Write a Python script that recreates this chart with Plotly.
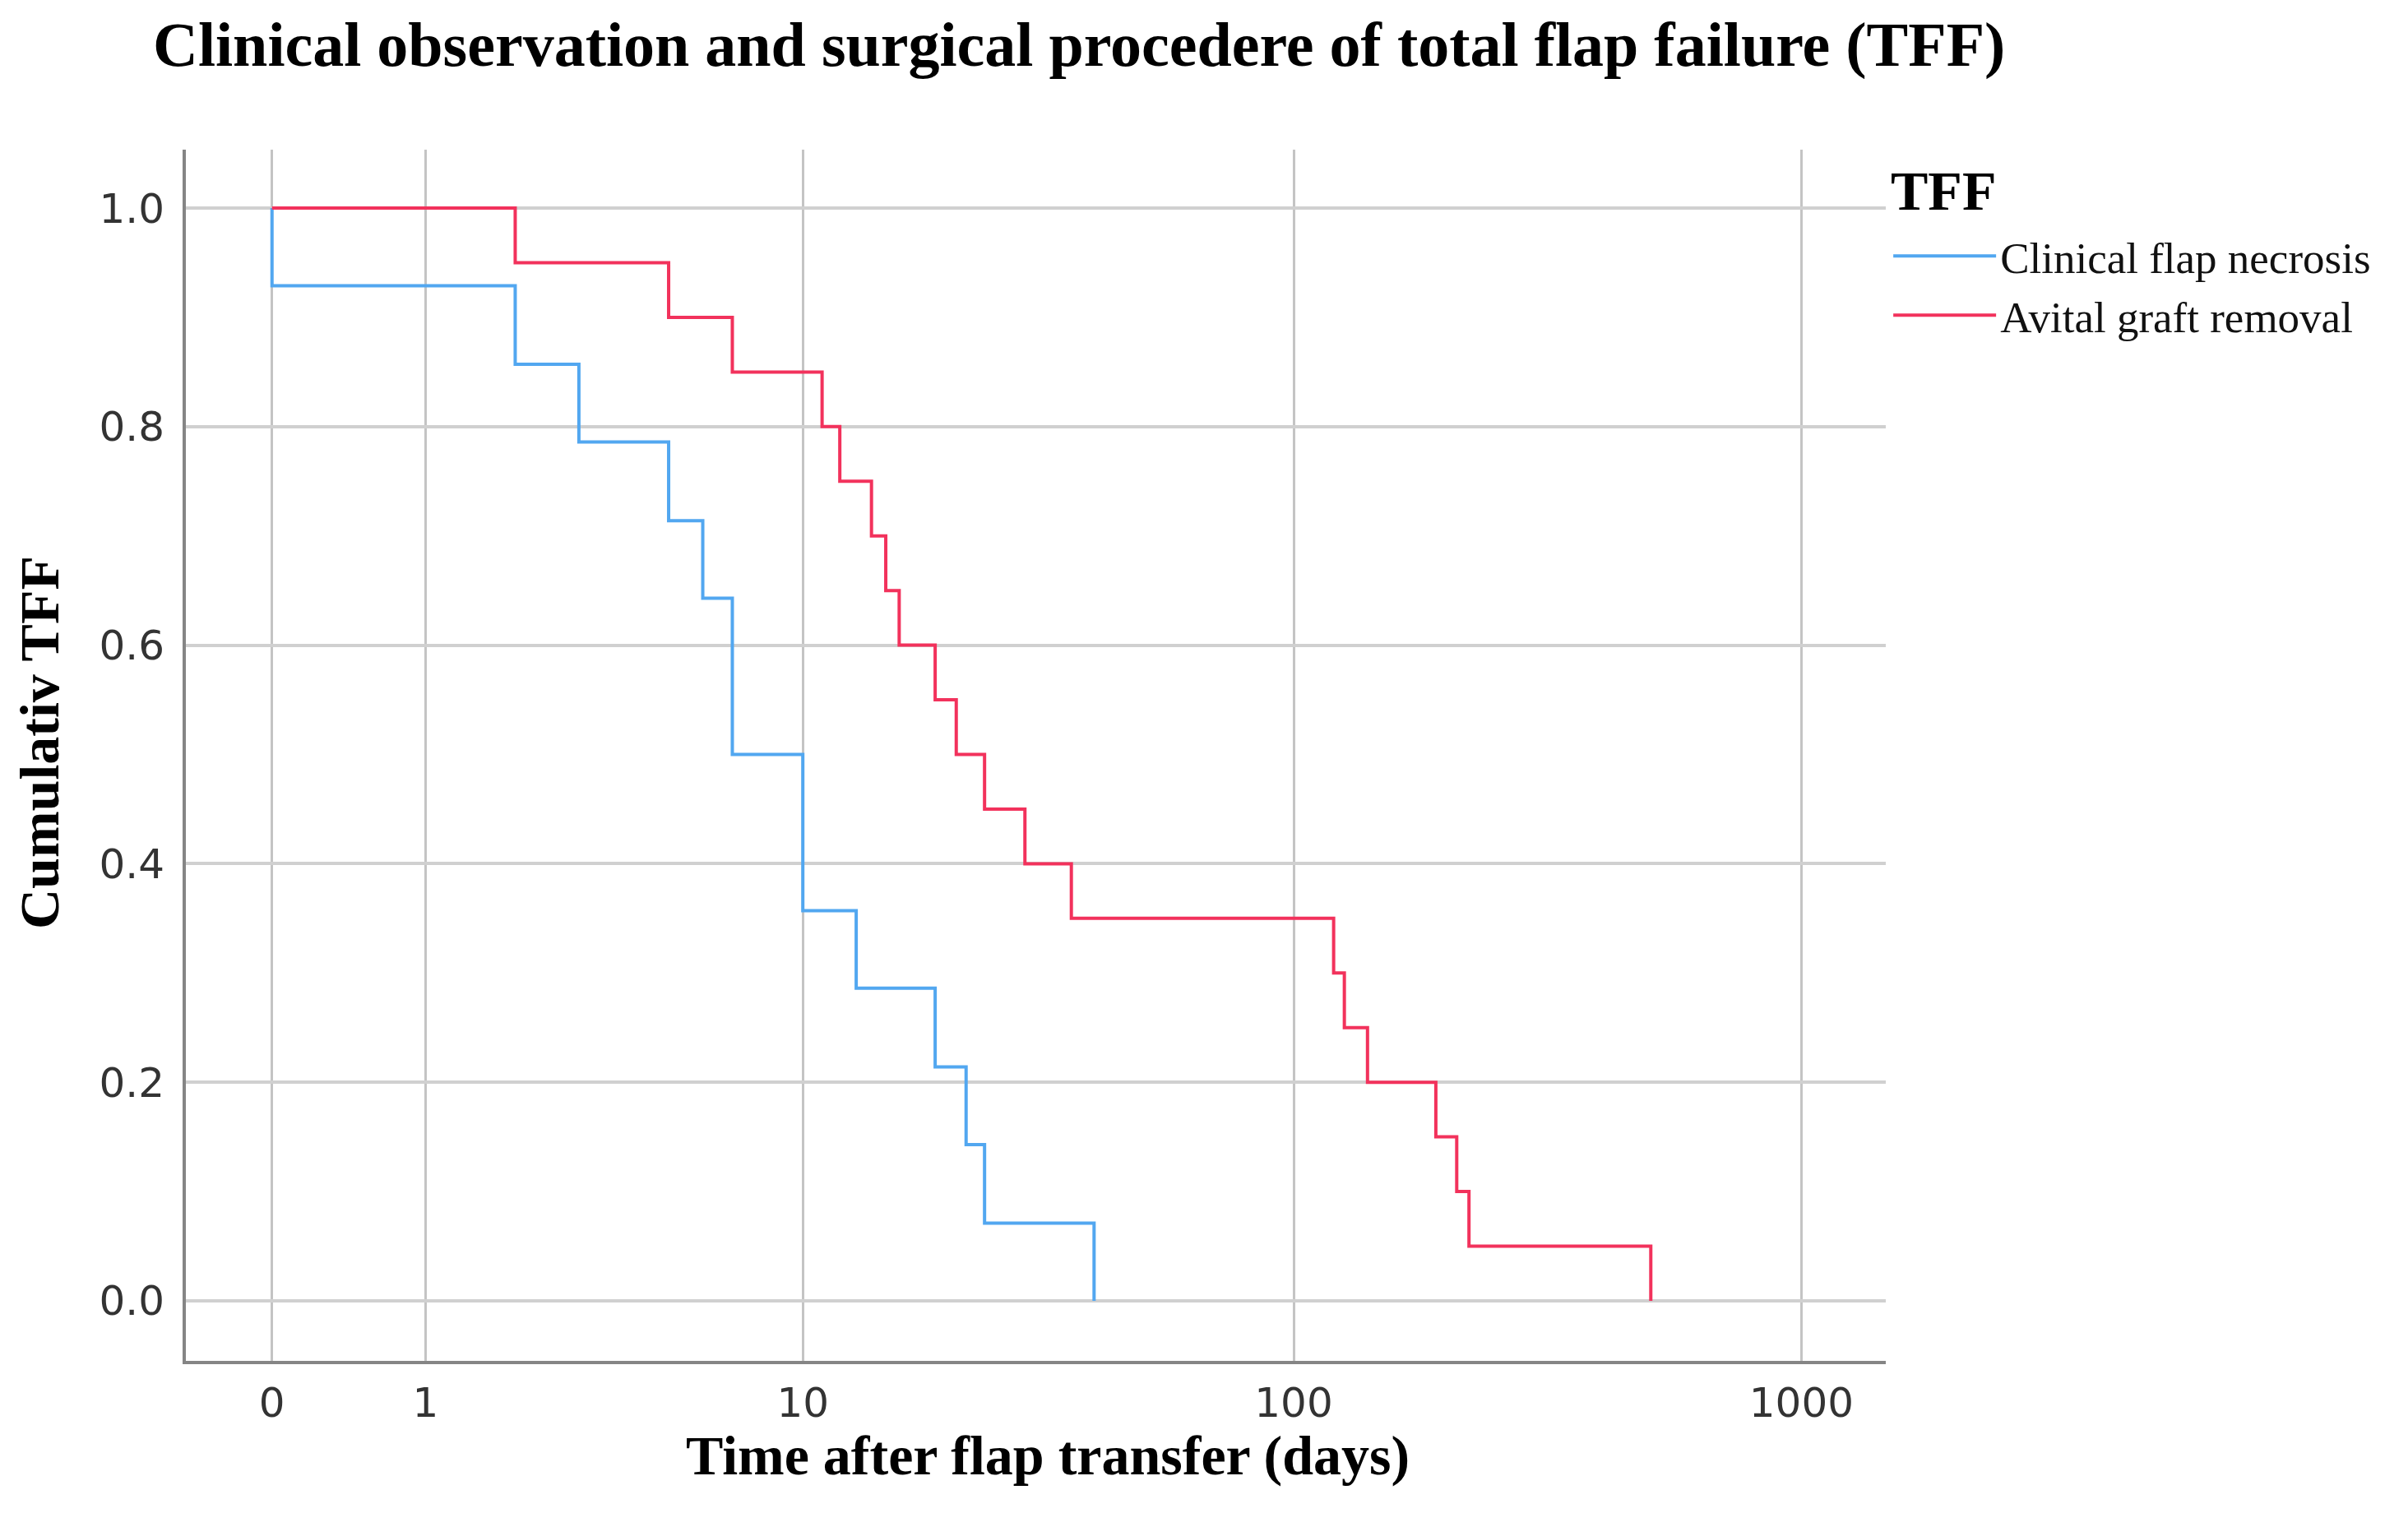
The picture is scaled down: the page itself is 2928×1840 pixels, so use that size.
import plotly.graph_objects as go

# ---------------- data ----------------
necrosis_days = [0, 0, 2, 3, 5, 6, 7, 10, 13, 19, 22, 24, 40]
necrosis_cum = [1.0, 0.929, 0.857, 0.786, 0.714, 0.643, 0.5, 0.357, 0.286, 0.214, 0.143, 0.071, 0.0]

removal_days = [0, 2, 5, 7, 11, 12, 14, 15, 16, 19, 21, 24, 29, 36, 120, 126, 140, 191, 210, 222, 506]
removal_cum = [1.0, 0.95, 0.9, 0.85, 0.8, 0.75, 0.7, 0.65, 0.6, 0.55, 0.5, 0.45, 0.4, 0.35,
               0.3, 0.25, 0.2, 0.15, 0.1, 0.05, 0.0]

x_tick_labels = ["0", "1", "10", "100", "1000"]
y_tick_vals = [0.0, 0.2, 0.4, 0.6, 0.8, 1.0]

# axis is log10(days + 1)
x_tick_pos = [int(v) + 1 for v in x_tick_labels]
necrosis_x = [d + 1 for d in necrosis_days]
removal_x = [d + 1 for d in removal_days]

W, H = 2928, 1840
PL, PR, PT, PB = 218, 2285, 174, 1647   # plot area edges in pixels
L, R, T, B = PL, W - PR, PT, H - PB

BLUE = "#52a7f0"
RED = "#f2325c"
SERIF = "Liberation Serif, DejaVu Serif, serif"
SANS = "DejaVu Sans, Verdana, sans-serif"

fig = go.Figure()
fig.add_trace(go.Scatter(x=necrosis_x, y=necrosis_cum, mode="lines", line_shape="hv",
                         line=dict(color=BLUE, width=4), name="Clinical flap necrosis"))
fig.add_trace(go.Scatter(x=removal_x, y=removal_cum, mode="lines", line_shape="hv",
                         line=dict(color=RED, width=4), name="Avital graft removal"))

fig.update_layout(
    width=W, height=H,
    margin=dict(l=L, r=R, t=T, b=B, autoexpand=False),
    paper_bgcolor="white", plot_bgcolor="white",
    title=dict(text="<b>Clinical observation and surgical procedere of total flap failure (TFF)</b>",
               x=178 / W, xref="container", xanchor="left",
               y=1 - 45 / H, yref="container", yanchor="middle",
               font=dict(family=SERIF, size=76, color="black")),
    showlegend=True,
    legend=dict(x=1.002, xanchor="left", y=0.940, yanchor="top",
                font=dict(family=SERIF, size=53, color="#111111"),
                itemwidth=125, tracegroupgap=0, bgcolor="rgba(0,0,0,0)"),
)

fig.update_xaxes(type="log", range=[-0.169, 3.166],
                 tickvals=x_tick_pos, ticktext=x_tick_labels,
                 showgrid=True, gridcolor="#c4c4c4", gridwidth=3,
                 showline=True, linecolor="#858585", linewidth=4,
                 zeroline=False, ticks="", ticklabelstandoff=4,
                 tickfont=dict(family=SANS, size=50, color="#333333"))
fig.update_yaxes(range=[-0.055, 1.0535], tickvals=y_tick_vals,
                 tickformat=".1f",
                 showgrid=True, gridcolor="#d0d0d0", gridwidth=4,
                 showline=True, linecolor="#858585", linewidth=4,
                 zeroline=False, ticks="", ticklabelstandoff=12,
                 tickfont=dict(family=SANS, size=50, color="#333333"))

# legend heading
fig.add_annotation(text="<b>TFF</b>", xref="paper", yref="paper",
                   x=(2289 - PL) / (PR - PL), y=(PB - 224) / (PB - PT),
                   xanchor="left", yanchor="middle", showarrow=False,
                   font=dict(family=SERIF, size=68, color="black"))
# axis titles
fig.add_annotation(text="<b>Time after flap transfer (days)</b>", xref="paper", yref="paper",
                   x=(1266 - PL) / (PR - PL), y=-(1762 - PB) / (PB - PT),
                   xanchor="center", yanchor="middle", showarrow=False,
                   font=dict(family=SERIF, size=68, color="black"))
fig.add_annotation(text="<b>Cumulativ TFF</b>", xref="paper", yref="paper",
                   x=-(PL - 40) / (PR - PL), y=(PB - 895) / (PB - PT),
                   xanchor="center", yanchor="middle", showarrow=False, textangle=-90,
                   font=dict(family=SERIF, size=68, color="black"))

fig.write_html("out.html")
